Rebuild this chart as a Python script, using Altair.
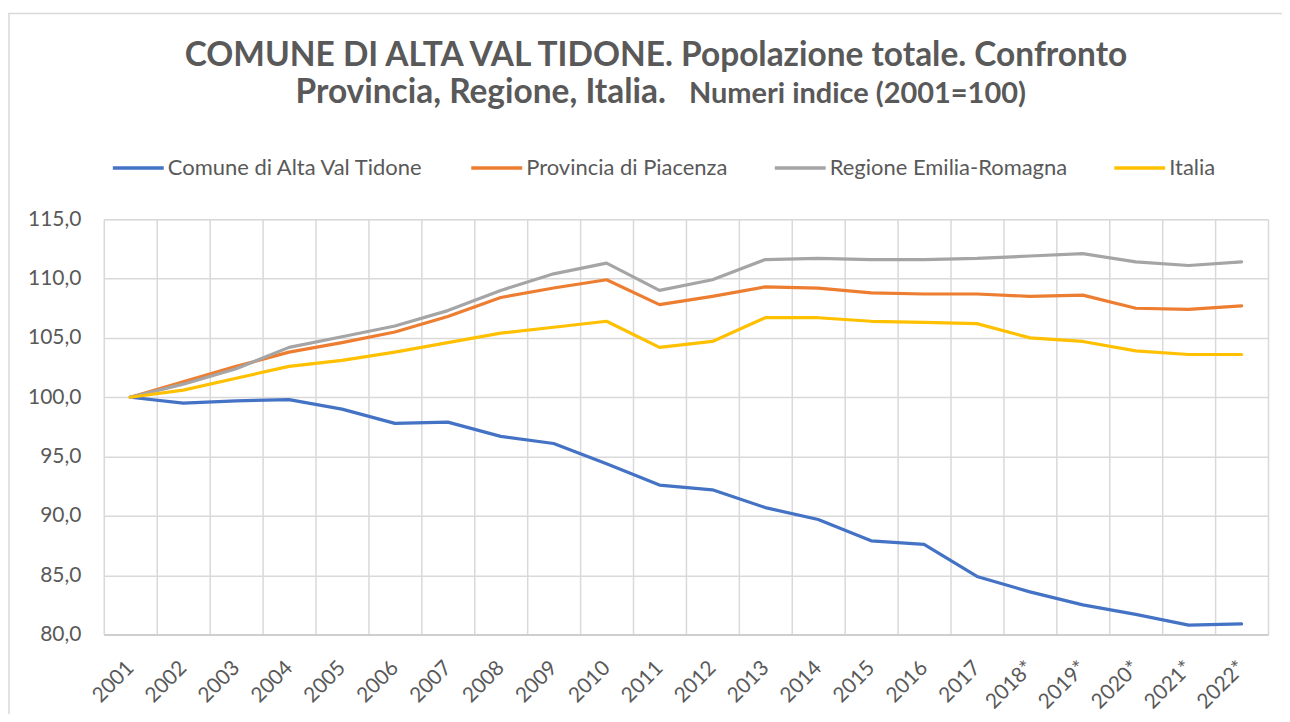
import altair as alt
import pandas as pd

years = ["2001", "2002", "2003", "2004", "2005", "2006", "2007", "2008", "2009", "2010",
         "2011", "2012", "2013", "2014", "2015", "2016", "2017", "2018*", "2019*", "2020*",
         "2021*", "2022*"]
comune = [100.0, 99.5, 99.7, 99.8, 99.0, 97.8, 97.9, 96.7, 96.1, 94.4, 92.6, 92.2, 90.7,
          89.7, 87.9, 87.6, 84.9, 83.6, 82.5, 81.7, 80.8, 80.9]
provincia = [100.0, 101.3, 102.6, 103.8, 104.6, 105.5, 106.8, 108.4, 109.2, 109.9, 107.8,
             108.5, 109.3, 109.2, 108.8, 108.7, 108.7, 108.5, 108.6, 107.5, 107.4, 107.7]
regione = [100.0, 101.1, 102.4, 104.2, 105.1, 106.0, 107.3, 109.0, 110.4, 111.3, 109.0,
           109.9, 111.6, 111.7, 111.6, 111.6, 111.7, 111.9, 112.1, 111.4, 111.1, 111.4]
italia = [100.0, 100.6, 101.6, 102.6, 103.1, 103.8, 104.6, 105.4, 105.9, 106.4, 104.2,
          104.7, 106.7, 106.7, 106.4, 106.3, 106.2, 105.0, 104.7, 103.9, 103.6, 103.6]

series_names = ["Comune di Alta Val Tidone", "Provincia di Piacenza",
                "Regione Emilia-Romagna", "Italia"]
series_values = [comune, provincia, regione, italia]
series_colors = ["#4472C4", "#ED7D31", "#A5A5A5", "#FFC000"]

title_line1 = "COMUNE DI ALTA VAL TIDONE. Popolazione totale. Confronto"
title_line2a = "Provincia, Regione, Italia."
title_line2b = "Numeri indice (2001=100)"

rows = []
for name, vals in zip(series_names, series_values):
    for i, (yr, v) in enumerate(zip(years, vals)):
        rows.append({"Anno": yr, "Serie": name, "Valore": v, "ord": i})
df = pd.DataFrame(rows)

FONT = "Lato"
TXT = "#595959"

lines = alt.Chart(df).mark_line(strokeWidth=3.2, strokeCap="round", strokeJoin="round").encode(
    x=alt.X("Anno:N", sort=years,
            scale=alt.Scale(type="band", paddingInner=0, paddingOuter=0),
            axis=alt.Axis(title=None, labelAngle=-45, labelAlign="right",
                          labelBaseline="middle", labelPadding=30, tickBand="extent",
                          ticks=False, grid=True, gridColor="#d9d9d9", gridWidth=1.5,
                          domainColor="#c8c8c8", domainWidth=1.5,
                          labelFont=FONT, labelFontSize=21, labelColor=TXT)),
    y=alt.Y("Valore:Q",
            scale=alt.Scale(domain=[80, 115], nice=False, zero=False),
            axis=alt.Axis(title=None, values=[80, 85, 90, 95, 100, 105, 110, 115],
                          labelExpr="replace(format(datum.value, '.1f'), '.', ',')",
                          ticks=False, domain=False, grid=True, gridColor="#d9d9d9",
                          gridWidth=1.5, labelPadding=23,
                          labelFont=FONT, labelFontSize=21, labelColor=TXT)),
    color=alt.Color("Serie:N", sort=series_names,
                    scale=alt.Scale(domain=series_names, range=series_colors),
                    legend=alt.Legend(title=None, orient="none", direction="horizontal",
                                      legendX=7, legendY=-79, symbolType="stroke",
                                      symbolSize=2600, symbolStrokeWidth=3.5,
                                      labelOffset=2, columnPadding=40, labelLimit=0,
                                      labelFont=FONT, labelFontSize=22, labelColor=TXT)),
    order="ord:Q",
)

one = pd.DataFrame({"k": [0]})

frame = alt.Chart(one).mark_rect(fill="white", fillOpacity=0, stroke="#d9d9d9",
                                 strokeWidth=1.5).encode(
    x=alt.value(-95), x2=alt.value(1200), y=alt.value(-206), y2=alt.value(600))

t1 = alt.Chart(one).mark_text(text=title_line1, font=FONT, fontSize=33.5, fontWeight="bold",
                              color=TXT, align="center", baseline="alphabetic").encode(
    x=alt.value(553), y=alt.value(-153))
t2a = alt.Chart(one).mark_text(text=title_line2a, font=FONT, fontSize=33.5, fontWeight="bold",
                               color=TXT, align="right", baseline="alphabetic").encode(
    x=alt.value(563), y=alt.value(-116))
t2b = alt.Chart(one).mark_text(text=title_line2b, font=FONT, fontSize=29, fontWeight="bold",
                               color=TXT, align="left", baseline="alphabetic").encode(
    x=alt.value(586), y=alt.value(-116))

chart = alt.layer(frame, lines, t1, t2a, t2b).properties(
    width=1166, height=416,
    autosize=alt.AutoSizeParams(type="none"),
    padding={"left": 96, "top": 211, "right": 14, "bottom": 79},
).configure_view(stroke=None).configure(background="white")

chart.save("out.html", embed_options={"renderer": "svg", "actions": False})
